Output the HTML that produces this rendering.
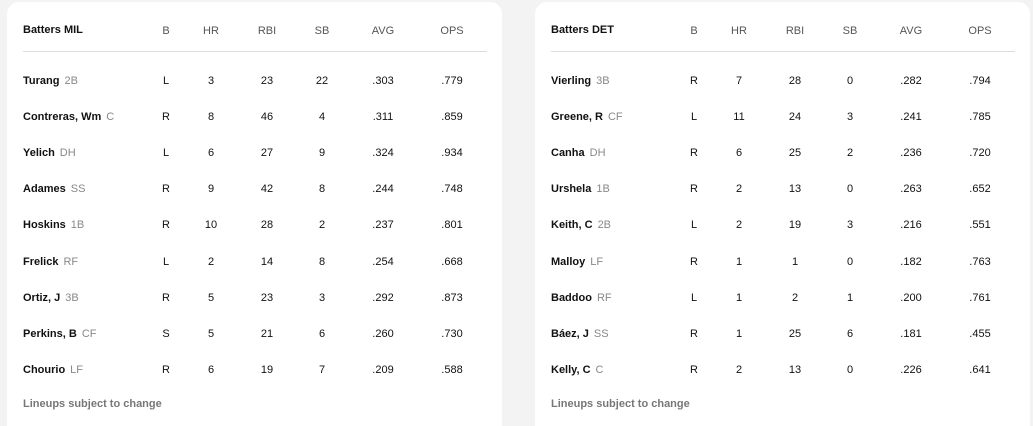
<!DOCTYPE html><html style="overflow:hidden;height:426px"><head><style>
body{margin:0;width:1033px;height:426px;background:#f3f3f3;font-family:"Liberation Sans",sans-serif;position:relative;overflow:hidden}
.card{position:absolute;top:2px;width:495px;height:424px;background:#fff;border-radius:12px 12px 0 0}
.t{position:absolute;font-size:11px;color:#111;transform:translate(-50%,-50%);white-space:nowrap}
.h{color:#555;font-size:11px}
.n{transform:translate(0,-50%);font-weight:bold}
.n span{font-weight:normal;color:#888;margin-left:5px}
.line{position:absolute;top:51px;height:1px;width:464px;background:#ddd}
.f{position:absolute;font-size:11px;font-weight:bold;color:#777;transform:translate(0,-50%)}
</style></head><body>
<div class="card" style="left:7px"></div><div class="card" style="left:535px"></div>
<div id="c"></div>
<script>
const data=[["MIL",0,[["Turang","2B","L",3,23,22,".303",".779"],["Contreras, Wm","C","R",8,46,4,".311",".859"],["Yelich","DH","L",6,27,9,".324",".934"],["Adames","SS","R",9,42,8,".244",".748"],["Hoskins","1B","R",10,28,2,".237",".801"],["Frelick","RF","L",2,14,8,".254",".668"],["Ortiz, J","3B","R",5,23,3,".292",".873"],["Perkins, B","CF","S",5,21,6,".260",".730"],["Chourio","LF","R",6,19,7,".209",".588"]]],
["DET",528,[["Vierling","3B","R",7,28,0,".282",".794"],["Greene, R","CF","L",11,24,3,".241",".785"],["Canha","DH","R",6,25,2,".236",".720"],["Urshela","1B","R",2,13,0,".263",".652"],["Keith, C","2B","L",2,19,3,".216",".551"],["Malloy","LF","R",1,1,0,".182",".763"],["Baddoo","RF","L",1,2,1,".200",".761"],["Báez, J","SS","R",1,25,6,".181",".455"],["Kelly, C","C","R",2,13,0,".226",".641"]]]];
const cx=[166,211,267,322,383,452];let h="";
for(const [tm,o,rows] of data){
h+=`<div class="t n" style="left:${23+o}px;top:30px">Batters ${tm}</div>`;
["B","HR","RBI","SB","AVG","OPS"].forEach((s,i)=>h+=`<div class="t h" style="left:${cx[i]+o}px;top:31px">${s}</div>`);
h+=`<div class="line" style="left:${23+o}px"></div>`;
rows.forEach((r,j)=>{const y=81+j*36.1;
h+=`<div class="t n" style="left:${23+o}px;top:${y}px">${r[0]}<span>${r[1]}</span></div>`;
for(let i=0;i<6;i++)h+=`<div class="t" style="left:${cx[i]+o}px;top:${y}px">${r[i+2]}</div>`;});
h+=`<div class="f" style="left:${23+o}px;top:404px">Lineups subject to change</div>`;}
document.getElementById("c").innerHTML=h;
</script></body></html>
